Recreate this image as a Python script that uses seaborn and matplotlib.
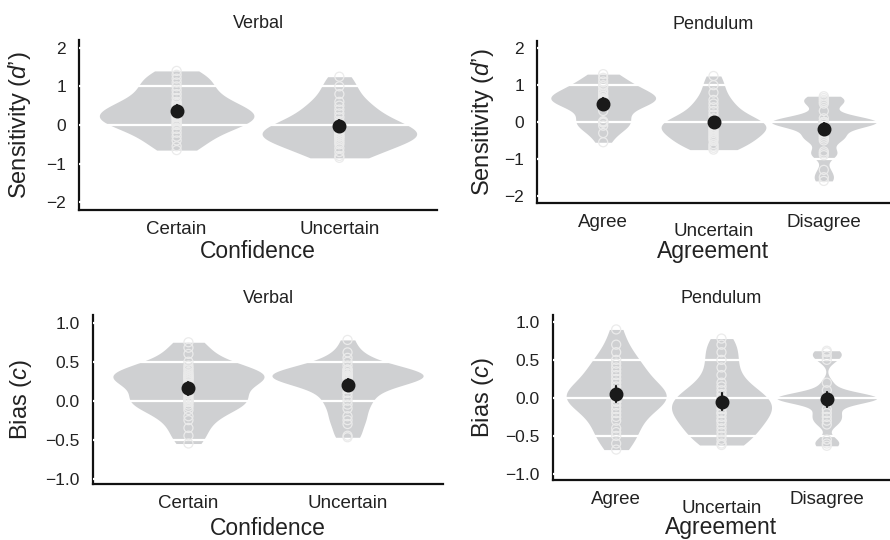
import matplotlib
matplotlib.use("Agg")
import matplotlib.pyplot as plt
import matplotlib.ticker as mticker
from matplotlib.transforms import ScaledTranslation
import seaborn as sns
import pandas as pd
import numpy as np

# ---- data ----
conf_levels = ["Certain", "Uncertain"]
agree_levels = ["Agree", "Uncertain", "Disagree"]

verbal_d_certain = [-0.65, -0.55, -0.4, -0.3, -0.2, -0.1, 0.0, 0.0, 0.05, 0.1, 0.15, 0.2, 0.2, 0.25,
                    0.3, 0.35, 0.4, 0.45, 0.5, 0.55, 0.6, 0.7, 0.8, 0.9, 1.0, 1.1, 1.2, 1.3, 1.4]
verbal_d_uncertain = [-0.85, -0.8, -0.7, -0.6, -0.5, -0.45, -0.4, -0.35, -0.3, -0.3, -0.25, -0.2, -0.15,
                      -0.1, -0.05, 0.0, 0.05, 0.1, 0.2, 0.3, 0.4, 0.5, 0.6, 0.8, 1.0, 1.25]

pend_d_agree = [-0.55, -0.3, -0.1, -0.02, 0.0, 0.0, 0.02, 0.3, 0.45, 0.5, 0.55, 0.58, 0.6, 0.6, 0.62,
                0.65, 0.7, 0.72, 0.8, 0.85, 0.95, 1.0, 1.1, 1.2, 1.3]
pend_d_uncertain = [-0.75, -0.7, -0.65, -0.6, -0.5, -0.45, -0.4, -0.35, -0.3, -0.25, -0.2, -0.15, -0.1,
                    -0.1, -0.05, 0.0, 0.0, 0.05, 0.1, 0.2, 0.3, 0.4, 0.5, 0.6, 0.8, 1.0, 1.25]
pend_d_disagree = [0.7, 0.65, 0.6, 0.55, 0.5, 0.3, 0.1, 0.0, 0.0, 0.0, 0.0, 0.0, 0.0, 0.0, 0.0, 0.0,
                   0.0, -0.05, -0.3, -0.35, -0.4, -0.45, -0.5, -0.8, -0.85, -0.9, -1.3, -1.5, -1.6]

verbal_c_certain = [-0.55, -0.45, -0.35, -0.25, -0.2, -0.12, -0.08, -0.05, -0.02, 0.0, 0.0, 0.02, 0.05,
                    0.08, 0.15, 0.22, 0.25, 0.27, 0.28, 0.3, 0.3, 0.32, 0.33, 0.35, 0.37, 0.4, 0.42,
                    0.45, 0.5, 0.6, 0.68, 0.75]
verbal_c_uncertain = [-0.47, -0.45, -0.3, -0.25, -0.2, -0.1, -0.05, 0.0, 0.05, 0.1, 0.15, 0.2,
                      0.22, 0.25, 0.28, 0.3, 0.3, 0.3, 0.3, 0.32, 0.32, 0.35, 0.35, 0.35, 0.38, 0.4,
                      0.4, 0.45, 0.5, 0.55, 0.62, 0.78]

pend_c_agree = [-0.68, -0.6, -0.5, -0.45, -0.4, -0.3, -0.25, -0.2, -0.15, -0.1, -0.05, -0.05, 0.0,
                0.0, 0.0, 0.05, 0.05, 0.1, 0.1, 0.15, 0.2, 0.25, 0.3, 0.35, 0.4, 0.45, 0.5, 0.6,
                0.7, 0.9]
pend_c_uncertain = [-0.62, -0.6, -0.55, -0.5, -0.45, -0.4, -0.35, -0.3, -0.3, -0.25, -0.2, -0.2,
                    -0.15, -0.1, -0.1, -0.05, -0.05, 0.0, 0.0, 0.05, 0.1, 0.15, 0.2, 0.3, 0.4, 0.5,
                    0.6, 0.7, 0.78]
pend_c_disagree = [0.62, 0.6, 0.55, 0.5, 0.2, 0.1, 0.0, 0.0, 0.0, 0.0, 0.0, 0.0, 0.0, 0.0, 0.0, 0.0,
                   -0.05, -0.15, -0.2, -0.25, -0.3, -0.35, -0.55, -0.6, -0.63]

d_ticks = [-2, -1, 0, 1, 2]
c_ticks = [-1.0, -0.5, 0.0, 0.5, 1.0]


def long_df(groups):
    rows = []
    for name, vals in groups.items():
        for v in vals:
            rows.append({"group": name, "value": v})
    return pd.DataFrame(rows)


def nrd0(kde):
    # R-style default bandwidth, like ggplot's violins
    x = kde.dataset[0]
    sd = x.std(ddof=1)
    q75, q25 = np.percentile(x, [75, 25])
    lo = min(sd, (q75 - q25) / 1.34)
    if lo == 0:
        lo = sd
    return 0.9 * lo * len(x) ** -0.2 / sd


sns.set_theme(style="white")
plt.rcParams["font.family"] = ["Liberation Sans", "DejaVu Sans"]
plt.rcParams["mathtext.fontset"] = "custom"
plt.rcParams["mathtext.it"] = "Liberation Sans:italic"
plt.rcParams["mathtext.rm"] = "Liberation Sans"

W, H = 890, 540
fig = plt.figure(figsize=(W / 100, H / 100), dpi=100)


def px_rect(l, t, r, b):
    return [l / W, 1 - b / H, (r - l) / W, (b - t) / H]


panels = [
    dict(rect=(79, 40, 437, 210), groups={"Certain": verbal_d_certain, "Uncertain": verbal_d_uncertain},
         order=conf_levels, title="Verbal", xlabel="Confidence", ylabel=r"Sensitivity ($d$’)",
         ylim=(-2.2, 2.2), yticks=d_ticks, fmt=None, xl=-0.176, yl=-0.128, shift=False),
    dict(rect=(537, 41, 890, 203), groups={"Agree": pend_d_agree, "Uncertain": pend_d_uncertain,
                                            "Disagree": pend_d_disagree},
         order=agree_levels, title="Pendulum", xlabel="Agreement", ylabel=r"Sensitivity ($d$’)",
         ylim=(-2.2, 2.2), yticks=d_ticks, fmt=None, xl=-0.228, yl=-0.116, shift=True),
    dict(rect=(93, 315, 443, 484), groups={"Certain": verbal_c_certain, "Uncertain": verbal_c_uncertain},
         order=conf_levels, title="Verbal", xlabel="Confidence", ylabel=r"Bias ($c$)",
         ylim=(-1.07, 1.1), yticks=c_ticks, fmt="%.1f", xl=-0.195, yl=-0.169, shift=False),
    dict(rect=(553, 315, 890, 480), groups={"Agree": pend_c_agree, "Uncertain": pend_c_uncertain,
                                            "Disagree": pend_c_disagree},
         order=agree_levels, title="Pendulum", xlabel="Agreement", ylabel=r"Bias ($c$)",
         ylim=(-1.08, 1.09), yticks=c_ticks, fmt="%.1f", xl=-0.218, yl=-0.169, shift=True),
]

text_col = "#222222"

for p in panels:
    ax = fig.add_axes(px_rect(*p["rect"]))
    df = long_df(p["groups"])

    sns.violinplot(data=df, x="group", y="value", order=p["order"], color="#cfd0d2", saturation=1,
                   inner=None, cut=0, density_norm="width", width=0.95, linewidth=0,
                   bw_method=nrd0, ax=ax)
    sns.stripplot(data=df, x="group", y="value", order=p["order"], jitter=False, size=6.5,
                  color="#ebebeb", facecolor="none", edgecolor="#ebebeb", linewidth=0.9,
                  zorder=3, ax=ax)
    sns.pointplot(data=df, x="group", y="value", order=p["order"], estimator="mean",
                  errorbar=("se", 1.5), color="#1a1a1a", linestyle="none", marker="o",
                  markersize=8, err_kws={"linewidth": 1.6, "zorder": 4}, zorder=5, ax=ax)

    ax.set_xlim(-0.6, len(p["order"]) - 0.4)
    ax.set_ylim(*p["ylim"])
    ax.set_yticks(p["yticks"])
    if p["fmt"]:
        ax.yaxis.set_major_formatter(
            mticker.FuncFormatter(lambda v, pos: f"{v:.1f}".replace("-", "\u2212")))

    # white reference lines on top of the violins
    ax.set_axisbelow(False)
    ax.yaxis.grid(True, color="white", linewidth=1.6)
    ax.xaxis.grid(False)

    sns.despine(ax=ax)
    for s in ["left", "bottom"]:
        ax.spines[s].set_color("#111111")
        ax.spines[s].set_linewidth(1.6)

    ax.tick_params(axis="x", length=0, pad=8, labelsize=13.5, labelcolor=text_col)
    ax.tick_params(axis="y", length=0, pad=9.4, labelsize=12.5, labelcolor=text_col)

    ax.set_title(p["title"], fontsize=13, color=text_col, pad=8.4)
    ax.set_xlabel(p["xlabel"], fontsize=16.5, color=text_col)
    ax.set_ylabel(p["ylabel"], fontsize=17, color=text_col)
    ax.xaxis.set_label_coords(0.5, p["xl"])
    ax.yaxis.set_label_coords(p["yl"], 0.5)

    if p["shift"]:
        lab = ax.get_xticklabels()[1]
        lab.set_transform(lab.get_transform() + ScaledTranslation(0, -9 / 100, fig.dpi_scale_trans))

fig.savefig("out.png", dpi=100)
